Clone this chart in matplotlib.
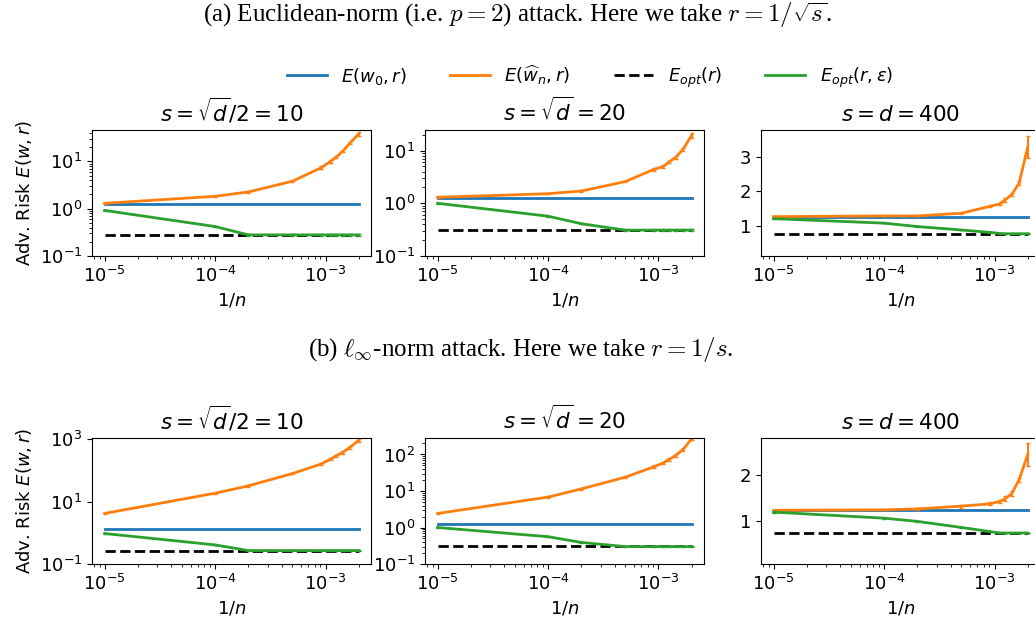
import matplotlib
matplotlib.use("Agg")
import matplotlib.pyplot as plt
from matplotlib.ticker import NullLocator

plt.rcParams['font.size'] = 13

# 1/n values used for every panel
inv_n = [1e-5, 1e-4, 2e-4, 5e-4, 9.09e-4, 1.11e-3, 1.25e-3, 1.43e-3, 1.67e-3, 2e-3]

titles = [r"$s=\sqrt{d}/2=10$", r"$s=\sqrt{d}=20$", r"$s=d=400$"]
labels = [r"$E(w_0,r)$", r"$E(\widehat{w}_n,r)$", r"$E_{opt}(r)$", r"$E_{opt}(r,\varepsilon)$"]

# (a) Euclidean-norm attack
a_w0 = [1.27, 1.28, 1.26]
a_opt = [0.28, 0.31, 0.76]
a_wn = [
    [1.3, 1.83, 2.26, 3.8, 7.3, 10.0, 12.3, 16.4, 24.6, 38.0],
    [1.3, 1.52, 1.71, 2.58, 4.4, 5.0, 6.1, 7.4, 10.6, 19.5],
    [1.26, 1.28, 1.28, 1.36, 1.56, 1.63, 1.75, 1.9, 2.24, 3.3],
]
a_wn_err = [
    [0.02, 0.05, 0.08, 0.12, 0.5, 0.7, 0.6, 0.8, 1.5, 4.0],
    [0.02, 0.03, 0.05, 0.1, 0.35, 0.3, 0.3, 0.4, 0.8, 2.5],
    [0.01, 0.01, 0.01, 0.02, 0.03, 0.04, 0.05, 0.04, 0.05, 0.32],
]
a_eps = [
    [0.92, 0.42, 0.28, 0.28, 0.28, 0.28, 0.28, 0.28, 0.28, 0.28],
    [1.0, 0.57, 0.41, 0.31, 0.31, 0.31, 0.31, 0.31, 0.31, 0.31],
    [1.2, 1.07, 0.97, 0.87, 0.8, 0.77, 0.76, 0.76, 0.76, 0.76],
]
a_ylim = [(0.1, 47), (0.1, 25), (0.11, 3.8)]

# (b) l_inf-norm attack
b_w0 = [1.28, 1.26, 1.25]
b_opt = [0.27, 0.31, 0.75]
b_wn = [
    [4.2, 18.6, 32, 79, 160, 230, 295, 380, 550, 930],
    [2.43, 6.8, 11.4, 23.8, 46, 59, 73, 94, 137, 270],
    [1.24, 1.25, 1.27, 1.33, 1.38, 1.43, 1.49, 1.6, 1.9, 2.45],
]
b_wn_err = [
    [0.2, 0.8, 1.5, 4, 12, 15, 20, 35, 50, 90],
    [0.1, 0.3, 0.5, 1.5, 4, 5, 5, 8, 12, 20],
    [0.01, 0.01, 0.02, 0.03, 0.03, 0.04, 0.05, 0.05, 0.04, 0.25],
]
b_eps = [
    [0.95, 0.41, 0.27, 0.27, 0.27, 0.27, 0.27, 0.27, 0.27, 0.27],
    [1.0, 0.56, 0.39, 0.3, 0.3, 0.3, 0.3, 0.3, 0.3, 0.3],
    [1.2, 1.07, 1.0, 0.87, 0.78, 0.75, 0.75, 0.75, 0.75, 0.75],
]
b_ylim = [(0.1, 1130), (0.1, 290), (0.08, 2.81)]
b_left_yticks = [0.1, 10, 1000]

blue = '#1f77b4'
orange = '#ff7f0e'
green = '#2ca02c'

fig = plt.figure(figsize=(10.35, 6.26), dpi=100)

lefts = [0.0889, 0.4106, 0.7353]
width = 0.27
rows = [
    (0.591, a_w0, a_wn, a_wn_err, a_opt, a_eps, a_ylim),
    (0.099, b_w0, b_wn, b_wn_err, b_opt, b_eps, b_ylim),
]

handles = None
for r, (bottom, w0, wn, wn_err, opt, eps, ylims) in enumerate(rows):
    for j in range(3):
        ax = fig.add_axes([lefts[j], bottom, width, 0.202])
        h1, = ax.plot(inv_n, [w0[j]] * len(inv_n), color=blue, lw=2)
        h2 = ax.errorbar(inv_n, wn[j], yerr=wn_err[j], color=orange, lw=2,
                         capsize=1.5, elinewidth=1.5)
        h3, = ax.plot(inv_n, [opt[j]] * len(inv_n), 'k--', lw=2)
        h4 = ax.errorbar(inv_n, eps[j], yerr=0.01, color=green, lw=2,
                         capsize=1.5, elinewidth=1.5)
        ax.set_xscale('log')
        if j < 2:
            ax.set_yscale('log')
        if r == 1 and j == 0:
            ax.set_yticks(b_left_yticks)
            ax.yaxis.set_minor_locator(NullLocator())
        ax.set_ylim(*ylims[j])
        ax.set_title(titles[j], fontsize=15.5)
        ax.set_xlabel(r"$1/n$")
        if j == 0:
            ax.set_ylabel(r"Adv. Risk $E(w,r)$")
        handles = [h1, h2[0], h3, h4[0]]

fig.legend(handles, labels, loc='center', bbox_to_anchor=(0.57, 0.877),
           ncol=4, frameon=False, handlelength=2.2, columnspacing=2.4)

fig.text(0.5, 0.975, r"(a) Euclidean-norm (i.e. $p=2$) attack. Here we take $r=1/\sqrt{s}$.",
         ha='center', va='center', fontsize=18, family='Liberation Serif',
         math_fontfamily='cm')
fig.text(0.503, 0.441, r"(b) $\ell_\infty$-norm attack. Here we take $r=1/s$.",
         ha='center', va='center', fontsize=18, family='Liberation Serif',
         math_fontfamily='cm')

fig.savefig('out.png', dpi=100)
